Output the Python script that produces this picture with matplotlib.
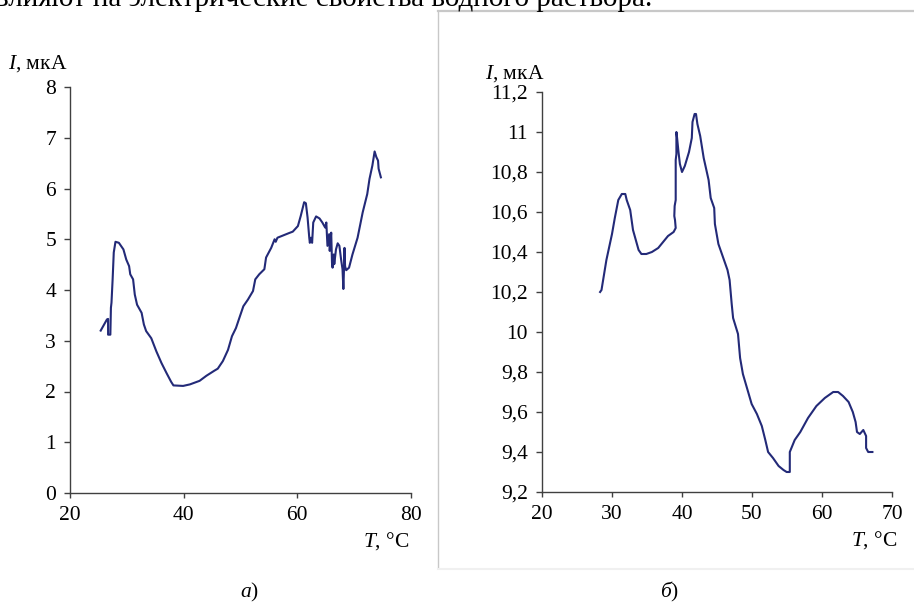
import matplotlib
matplotlib.use("Agg")
import matplotlib.pyplot as plt
from matplotlib.lines import Line2D
from matplotlib.ticker import FixedLocator, FixedFormatter

plt.rcParams['font.family'] = ['Liberation Serif', 'DejaVu Serif']
plt.rcParams['mathtext.fontset'] = 'custom'
plt.rcParams['mathtext.rm'] = 'Liberation Serif'
plt.rcParams['mathtext.it'] = 'Liberation Serif:italic'

# ---- data: panel a ----
T_a = [25.4, 26.5, 26.7, 26.7, 27.1, 27.2, 27.3, 27.5, 27.7, 28.0,
       28.6, 29.4, 29.9, 30.4, 30.6, 31.1, 31.4, 31.8, 32.6, 33.0,
       33.4, 34.3, 35.2, 36.1, 37.0, 37.8, 38.2, 39.9, 41.1, 42.8,
       44.0, 45.4, 46.0, 46.9, 47.8, 48.5, 49.2, 49.8, 50.5, 51.3,
       52.2, 52.6, 53.3, 54.2, 54.5, 55.4, 56.0, 56.2, 56.5, 58.5,
       59.2, 60.1, 60.6, 61.2, 61.5, 61.8, 62.1, 62.2, 62.4, 62.6,
       62.8, 63.3, 63.9, 64.4, 64.9, 65.1, 65.3, 65.6, 65.7, 65.96,
       66.1, 66.2, 66.4, 66.5, 66.8, 67.1, 67.4, 67.7, 67.95, 68.1,
       68.2, 68.3, 68.4, 68.6, 69.1, 69.7, 70.6, 71.5, 72.3, 72.7,
       73.2, 73.6, 73.9, 74.2, 74.3, 74.7]
I_a = [3.20, 3.42, 3.43, 3.12, 3.12, 3.65, 3.75, 4.21, 4.74, 4.95,
       4.93, 4.80, 4.60, 4.47, 4.31, 4.21, 3.91, 3.71, 3.55, 3.32,
       3.19, 3.05, 2.79, 2.56, 2.36, 2.19, 2.12, 2.11, 2.14, 2.21,
       2.31, 2.41, 2.45, 2.60, 2.82, 3.09, 3.25, 3.45, 3.68, 3.81,
       3.98, 4.21, 4.31, 4.41, 4.64, 4.83, 5.00, 4.95, 5.03, 5.12,
       5.15, 5.26, 5.46, 5.73, 5.71, 5.43, 5.03, 4.93, 5.03, 4.93,
       5.33, 5.45, 5.41, 5.33, 5.23, 5.33, 4.87, 5.10, 4.77, 5.13,
       4.54, 4.44, 4.70, 4.51, 4.80, 4.92, 4.87, 4.60, 4.41, 4.02,
       4.37, 4.83, 4.47, 4.39, 4.44, 4.70, 5.03, 5.53, 5.89, 6.19,
       6.45, 6.73, 6.62, 6.55, 6.39, 6.22]

# ---- data: panel b ----
T_b = [28.3, 28.5, 29.2, 30.0, 30.4, 30.9, 31.4, 31.9, 32.1, 32.6,
       33.0, 33.4, 33.8, 34.2, 34.9, 35.7, 36.6, 37.3, 38.0, 38.8,
       39.1, 39.0, 38.9, 38.95, 39.1, 39.1, 39.2, 39.2, 39.3, 39.5,
       39.7, 40.0, 40.4, 41.0, 41.4, 41.5, 41.8, 42.0, 42.2, 42.6,
       43.1, 43.8, 44.1, 44.6, 44.7, 45.2, 45.9, 46.5, 46.8, 47.1,
       47.3, 48.0, 48.3, 48.7, 49.2, 49.95, 50.7, 51.4, 51.9, 52.3,
       53.0, 53.8, 54.5, 54.95, 55.4, 55.4, 56.1, 56.9, 58.0, 59.2,
       60.4, 61.6, 62.3, 63.0, 63.8, 64.4, 64.8, 65.0, 65.4, 65.9,
       66.3, 66.3, 66.6, 67.2]
I_b = [10.20, 10.21, 10.36, 10.49, 10.57, 10.66, 10.69, 10.69, 10.66, 10.61,
       10.51, 10.46, 10.41, 10.39, 10.39, 10.40, 10.42, 10.45, 10.48, 10.50,
       10.52, 10.56, 10.58, 10.63, 10.66, 10.86, 10.89, 11.00, 10.97, 10.90,
       10.84, 10.80, 10.83, 10.90, 10.97, 11.05, 11.09, 11.09, 11.04, 10.98,
       10.87, 10.76, 10.67, 10.62, 10.54, 10.44, 10.37, 10.31, 10.26, 10.14,
       10.07, 9.99, 9.87, 9.79, 9.73, 9.64, 9.59, 9.53, 9.46, 9.40,
       9.37, 9.33, 9.31, 9.30, 9.30, 9.40, 9.46, 9.50, 9.57, 9.63,
       9.67, 9.70, 9.70, 9.68, 9.65, 9.60, 9.55, 9.50, 9.49, 9.51,
       9.48, 9.42, 9.40, 9.40]

xticks_a = [20, 40, 60, 80]
yticks_a = [0, 1, 2, 3, 4, 5, 6, 7, 8]
yticklabels_a = ['0', '1', '2', '3', '4', '5', '6', '7', '8']
xticks_b = [20, 30, 40, 50, 60, 70]
yticks_b = [9.2, 9.4, 9.6, 9.8, 10.0, 10.2, 10.4, 10.6, 10.8, 11.0, 11.2]
yticklabels_b = ['9,2', '9,4', '9,6', '9,8', '10', '10,2', '10,4', '10,6',
                 '10,8', '11', '11,2']

ylabel = r'$I$, мкА'
xlabel = r'$T$, °C'
top_text = 'влияют на электрические свойства водного раствора.'

W, H = 914, 604
fig = plt.figure(figsize=(W / 100, H / 100), dpi=100)
fig.patch.set_facecolor('white')

def fx(x):
    return x / W

def fy(y):
    return 1 - y / H

LINE = '#232a78'
SPINE = '#404040'
FS = 15.5

# page frame of panel b
fig.add_artist(Line2D([fx(438), fx(438)], [fy(11), fy(568)], color='#c8c8c8', lw=1.0))
fig.add_artist(Line2D([fx(438), fx(914)], [fy(11), fy(11)], color='#c8c8c8', lw=1.6))
fig.add_artist(Line2D([fx(438), fx(914)], [fy(569), fy(569)], color='#f0f0f0', lw=1.5))

# top clipped text line (continuation of the page text, cut at the top edge)
fig.text(fx(652), fy(6), top_text, ha='right', va='baseline', fontsize=21, color='black')

def setup(ax, xt, yt, ytl, xlim, ylim):
    ax.set_xlim(*xlim)
    ax.set_ylim(*ylim)
    for s in ['top', 'right']:
        ax.spines[s].set_visible(False)
    for s in ['left', 'bottom']:
        ax.spines[s].set_color(SPINE)
        ax.spines[s].set_linewidth(1.0)
    ax.xaxis.set_major_locator(FixedLocator(xt))
    ax.xaxis.set_major_formatter(FixedFormatter([str(v) for v in xt]))
    ax.yaxis.set_major_locator(FixedLocator(yt))
    ax.yaxis.set_major_formatter(FixedFormatter(ytl))
    ax.tick_params(axis='both', direction='out', color=SPINE, width=1.0,
                   labelsize=FS, labelcolor='black')
    ax.tick_params(axis='y', length=4.5, pad=5.5)
    ax.tick_params(axis='x', length=3.5, pad=6)
    ax.set_facecolor('none')

# panel a
ax1 = fig.add_axes([fx(70), fy(493), fx(411 - 70), (493 - 87) / H])
ax1.plot(T_a, I_a, color=LINE, lw=1.5)
setup(ax1, xticks_a, yticks_a, yticklabels_a, (20, 80), (0, 8))

# panel b
ax2 = fig.add_axes([fx(542), fy(492), fx(892 - 542), (492 - 92) / H])
ax2.plot(T_b, I_b, color=LINE, lw=1.5)
setup(ax2, xticks_b, yticks_b, yticklabels_b, (20, 70), (9.2, 11.2))

# axis labels
fig.text(fx(67), fy(64), ylabel, ha='right', va='center', fontsize=FS)
fig.text(fx(544), fy(74), ylabel, ha='right', va='center', fontsize=FS)
fig.text(fx(409), fy(541), xlabel, ha='right', va='center', fontsize=FS)
fig.text(fx(897), fy(540), xlabel, ha='right', va='center', fontsize=FS)

# panel captions
fig.text(fx(250), fy(592), r'$a$)', ha='center', va='center', fontsize=FS)
fig.text(fx(670), fy(592), r'$б$)', ha='center', va='center', fontsize=FS)

fig.savefig('out.png', dpi=100, facecolor='white')
